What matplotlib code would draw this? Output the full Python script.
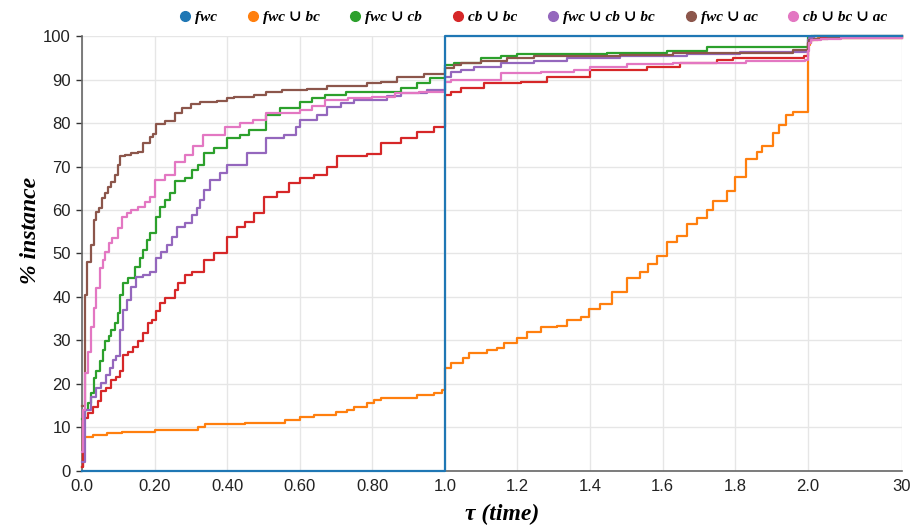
import matplotlib
matplotlib.use('Agg')
import matplotlib.pyplot as plt
from matplotlib.lines import Line2D
import numpy as np

# data: performance profile, tau -> % instances (step values)
labels = ['fwc', 'fwc ∪ bc', 'fwc ∪ cb', 'cb ∪ bc', 'fwc ∪ cb ∪ bc', 'fwc ∪ ac', 'cb ∪ bc ∪ ac']
colors = ['#1f77b4', '#ff7f0e', '#2ca02c', '#d62728', '#9467bd', '#8c564b', '#e377c2']

tau_fwc = [0, 1.0, 30]
pct_fwc = [0, 100, 100]

tau_fwc_bc = [0, 0.004, 0.03, 0.07, 0.11, 0.2, 0.32, 0.34, 0.45, 0.56, 0.6, 0.64, 0.7, 0.73, 0.75,
              0.786, 0.804, 0.825, 0.924, 0.97, 0.992, 1.0, 1.016, 1.049, 1.067, 1.117, 1.145, 1.163,
              1.2, 1.227, 1.264, 1.31, 1.337, 1.374, 1.397, 1.429, 1.461, 1.502, 1.538, 1.561, 1.584,
              1.612, 1.639, 1.667, 1.694, 1.722, 1.74, 1.777, 1.799, 1.831, 1.859, 1.873, 1.905, 1.92,
              1.94, 1.96, 2.0, 2.6, 5, 30]
pct_fwc_bc = [0.8, 7.8, 8.3, 8.8, 9.0, 9.5, 10.2, 10.8, 11.0, 11.8, 12.3, 12.8, 13.5, 14.0, 14.6,
              15.6, 16.3, 16.7, 17.5, 17.9, 18.6, 23.6, 24.9, 25.9, 27.1, 27.7, 28.3, 29.4,
              30.5, 32.0, 33.0, 33.3, 34.6, 35.5, 37.2, 38.4, 41.2, 44.3, 45.8, 47.7, 49.4,
              52.7, 54.0, 56.7, 58.1, 60.0, 62.1, 64.4, 67.7, 71.7, 73.4, 74.7, 77.6, 79.5,
              81.8, 82.6, 97.9, 99.0, 99.5, 99.8]

tau_fwc_cb = [0, 0.009, 0.017, 0.024, 0.033, 0.040, 0.049, 0.058, 0.064, 0.074, 0.081, 0.090, 0.099,
              0.104, 0.113, 0.127, 0.145, 0.159, 0.169, 0.178, 0.187, 0.203, 0.215, 0.230, 0.242, 0.256,
              0.284, 0.302, 0.320, 0.335, 0.363, 0.399, 0.435, 0.46, 0.506, 0.547, 0.602, 0.633, 0.670,
              0.729, 0.878, 0.924, 0.96, 1.0, 1.026, 1.099, 1.154, 1.2, 1.447, 1.612, 1.722, 1.987,
              2.0, 2.2, 3, 30]
pct_fwc_cb = [12, 14.0, 15.6, 17.9, 21.4, 22.9, 25.2, 27.9, 29.8, 31.1, 32.4, 34.0, 36.3,
              40.5, 43.2, 44.3, 46.8, 48.9, 50.8, 53.1, 54.6, 58.5, 60.8, 62.3, 63.9, 66.6,
              67.4, 69.3, 70.4, 73.0, 74.2, 76.5, 77.2, 78.4, 81.8, 83.4, 84.9, 85.7, 86.4,
              87.2, 88.0, 89.1, 90.3, 93.3, 93.7, 94.9, 95.5, 95.9, 96.2, 96.6, 97.4, 97.5,
              99.3, 99.8, 100, 100]

tau_cb_bc = [0, 0.004, 0.017, 0.030, 0.044, 0.053, 0.067, 0.081, 0.095, 0.104, 0.113, 0.127, 0.141,
             0.155, 0.169, 0.182, 0.193, 0.203, 0.215, 0.228, 0.256, 0.265, 0.284, 0.302, 0.335, 0.363,
             0.399, 0.427, 0.450, 0.473, 0.501, 0.538, 0.570, 0.602, 0.639, 0.676, 0.703, 0.786, 0.823,
             0.878, 0.924, 0.970, 1.0, 1.016, 1.044, 1.108, 1.209, 1.282, 1.401, 1.557, 1.648, 1.749,
             1.795, 1.99, 2.0, 3, 6, 30]
pct_cb_bc = [1, 12.1, 13.3, 14.8, 16.0, 18.3, 19.0, 21.0, 21.7, 22.9, 26.7, 27.4, 28.6,
             29.8, 31.7, 34.0, 34.7, 36.7, 38.6, 39.7, 41.7, 43.2, 45.1, 45.8, 48.5, 50.0,
             53.9, 56.2, 57.3, 59.2, 63.1, 64.2, 66.1, 67.3, 68.0, 70.0, 72.3, 72.9, 75.3,
             76.5, 78.0, 79.1, 86.4, 87.2, 88.0, 89.1, 89.5, 90.6, 92.3, 92.9, 93.9, 94.5,
             94.9, 95.3, 98.5, 99.3, 99.7, 100]

tau_fwc_cb_bc = [0, 0.007, 0.026, 0.040, 0.053, 0.067, 0.076, 0.086, 0.095, 0.104, 0.113, 0.123, 0.136,
                 0.150, 0.169, 0.187, 0.203, 0.219, 0.233, 0.247, 0.261, 0.284, 0.302, 0.318, 0.326,
                 0.335, 0.354, 0.381, 0.399, 0.454, 0.506, 0.557, 0.589, 0.602, 0.648, 0.676, 0.713,
                 0.750, 0.842, 0.878, 0.952, 1.0, 1.016, 1.044, 1.081, 1.154, 1.245, 1.337, 1.484,
                 1.667, 1.813, 1.996, 2.0, 2.3, 4, 30]
pct_fwc_cb_bc = [2, 14.0, 17.1, 19.0, 20.2, 22.1, 23.6, 25.5, 26.4, 32.4, 37.0, 39.3, 42.4,
                 44.5, 45.1, 45.8, 48.9, 50.4, 52.0, 53.9, 56.2, 57.0, 58.9, 60.5, 62.3,
                 64.6, 66.9, 68.4, 70.3, 73.0, 76.5, 77.2, 79.1, 80.7, 81.8, 83.7, 84.5,
                 85.3, 86.2, 87.0, 87.7, 90.6, 91.8, 92.3, 92.8, 93.7, 94.3, 94.9, 95.5,
                 95.9, 96.4, 96.8, 99.0, 99.6, 100, 100]

tau_fwc_ac = [0, 0.007, 0.015, 0.024, 0.033, 0.040, 0.048, 0.056, 0.064, 0.072, 0.081, 0.090, 0.100,
              0.105, 0.118, 0.136, 0.155, 0.169, 0.187, 0.196, 0.203, 0.228, 0.256, 0.275, 0.300,
              0.326, 0.372, 0.399, 0.418, 0.473, 0.506, 0.552, 0.621, 0.676, 0.786, 0.823, 0.868,
              0.942, 1.0, 1.026, 1.044, 1.099, 1.172, 1.245, 1.337, 1.484, 1.63, 1.813, 1.96, 2.0,
              2.5, 4, 8, 30]
pct_fwc_ac = [15, 40.5, 48.1, 52.0, 57.7, 59.6, 60.4, 62.7, 64.0, 65.4, 66.5, 68.0, 70.3,
              72.3, 72.6, 73.0, 73.4, 75.3, 76.7, 77.4, 79.7, 80.5, 82.2, 83.5, 84.4,
              84.9, 85.1, 85.7, 86.0, 86.5, 87.1, 87.5, 87.8, 88.5, 89.1, 89.5, 90.5,
              91.2, 92.6, 93.4, 93.7, 94.3, 94.9, 95.3, 95.5, 95.6, 96.0, 96.2, 96.8, 98.5,
              99.0, 99.3, 99.5, 99.6]

tau_cb_bc_ac = [0, 0.003, 0.009, 0.017, 0.024, 0.033, 0.040, 0.049, 0.058, 0.064, 0.074, 0.083, 0.099,
                0.109, 0.123, 0.136, 0.155, 0.173, 0.187, 0.200, 0.228, 0.256, 0.284, 0.307, 0.334,
                0.394, 0.435, 0.47, 0.506, 0.602, 0.633, 0.670, 0.734, 0.799, 0.864, 0.928, 1.0,
                1.016, 1.154, 1.264, 1.355, 1.401, 1.502, 1.630, 1.831, 1.992, 2.0, 2.3, 3, 6, 12, 30]
pct_cb_bc_ac = [4.4, 14, 22.5, 27.4, 33.2, 37.4, 42.0, 46.6, 48.5, 50.4, 52.3, 53.5, 55.8,
                58.5, 59.2, 60.0, 60.8, 61.9, 63.1, 66.9, 68.0, 71.1, 72.6, 74.6, 77.2,
                79.1, 79.9, 80.7, 82.2, 83.0, 83.9, 85.3, 85.7, 86.0, 86.8, 87.2, 89.5,
                90.0, 91.4, 91.8, 92.3, 92.9, 93.5, 93.7, 94.3, 94.6, 96.5, 98.3, 99.0, 99.3, 99.5, 99.5]

x_ticks = [0, 0.2, 0.4, 0.6, 0.8, 1.0, 1.2, 1.4, 1.6, 1.8, 2.0, 30]
x_ticklabels = ['0.0', '0.20', '0.40', '0.60', '0.80', '1.0', '1.2', '1.4', '1.6', '1.8', '2.0', '30']
y_ticks = list(range(0, 101, 10))

series = [(tau_fwc, pct_fwc), (tau_fwc_bc, pct_fwc_bc), (tau_fwc_cb, pct_fwc_cb),
          (tau_cb_bc, pct_cb_bc), (tau_fwc_cb_bc, pct_fwc_cb_bc), (tau_fwc_ac, pct_fwc_ac),
          (tau_cb_bc_ac, pct_cb_bc_ac)]


# piecewise x axis: [0,2] linear, (2,30] squeezed
SQ = 0.26 / 28

def fwd(x):
    x = np.asarray(x, dtype=float)
    return np.where(x <= 2, x, 2 + (x - 2) * SQ)

def inv(u):
    u = np.asarray(u, dtype=float)
    return np.where(u <= 2, u, 2 + (u - 2) / SQ)


serif = ['Liberation Serif', 'DejaVu Serif']
sans = ['Liberation Sans', 'DejaVu Sans']

fig = plt.figure(figsize=(9.15, 5.25), dpi=100)
ax = fig.add_axes([0.0896, 0.1029, 0.8962, 0.8285])
ax.set_xscale('function', functions=(fwd, inv))

for i, ((t, p), c) in enumerate(zip(series, colors)):
    ax.plot(t, p, drawstyle='steps-post', color=c, lw=1.6,
            zorder=5 if i == 0 else 3, clip_on=False)

ax.set_xlim(0, 30)
ax.set_ylim(0, 100)
ax.set_xticks(x_ticks)
ax.set_xticklabels(x_ticklabels)
ax.set_yticks(y_ticks)
ax.minorticks_off()
ax.tick_params(axis='x', length=0, pad=6)
ax.tick_params(axis='y', length=4, width=1, color='#333333', pad=4)
for lab in ax.get_xticklabels() + ax.get_yticklabels():
    lab.set_family(sans)
    lab.set_fontsize(12)
    lab.set_color('#222222')

ax.grid(True, color='#e6e6e6', lw=1, zorder=0)
ax.set_axisbelow(True)
for s in ['top', 'right']:
    ax.spines[s].set_visible(False)
ax.spines['left'].set_color('#666666')
ax.spines['left'].set_linewidth(1.2)
ax.spines['bottom'].set_color('#666666')
ax.spines['bottom'].set_linewidth(1.2)

ax.set_xlabel('τ (time)', family=serif, fontsize=17, weight='bold', style='italic')
ax.xaxis.set_label_coords(0.512, -0.075)
ax.set_ylabel('% instance', family=serif, fontsize=17, weight='bold', style='italic')
ax.yaxis.set_label_coords(-0.05, 0.554)

handles = [Line2D([], [], marker='o', ls='', color=c, markersize=7) for c in colors]
leg = fig.legend(handles, labels, loc='upper right', bbox_to_anchor=(0.985, 1.006), ncol=7,
                 frameon=False, handlelength=0.7, handletextpad=0.3, columnspacing=2.0,
                 prop={'family': serif, 'weight': 'bold', 'style': 'italic', 'size': 11})

fig.savefig('out.png', dpi=100)
